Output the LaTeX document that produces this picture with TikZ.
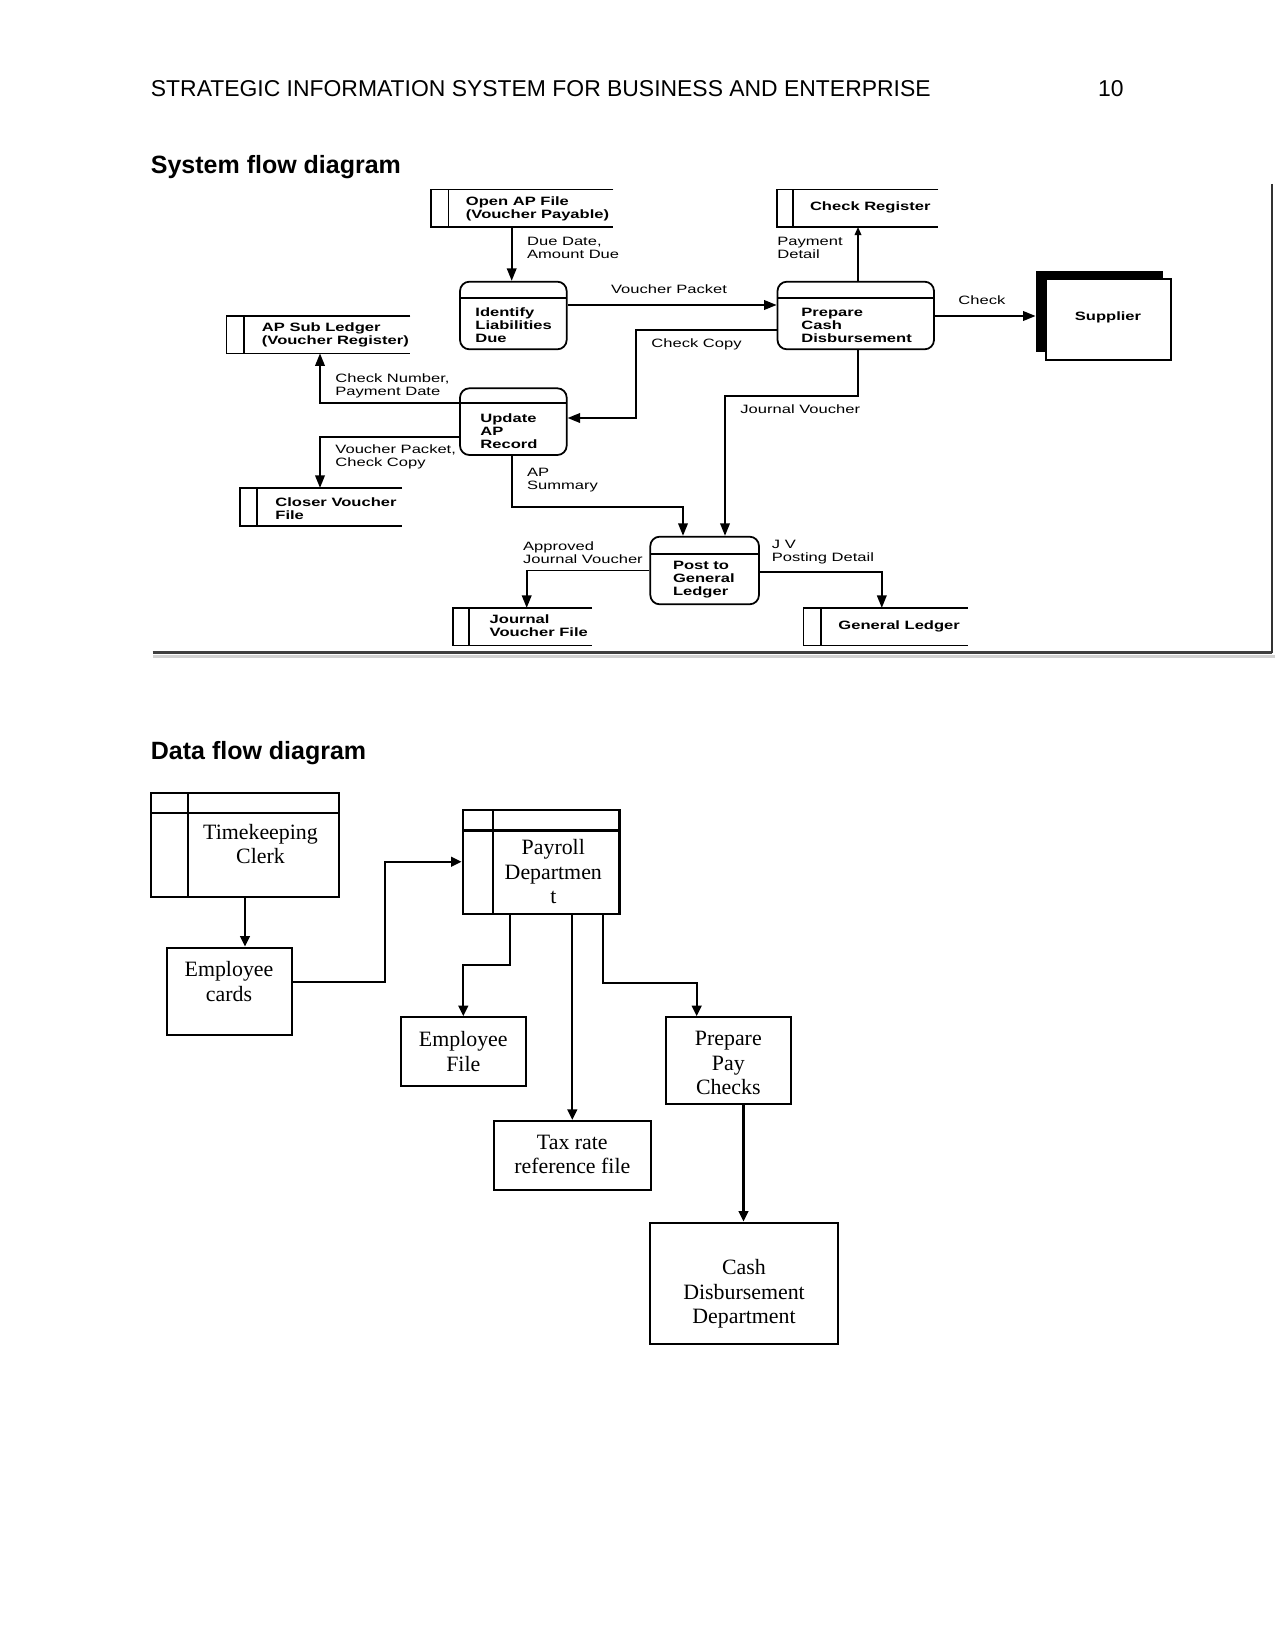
\documentclass[tikz,border=0pt]{standalone}
\usepackage{fontspec}
\setmainfont{Liberation Serif}
\setsansfont{Liberation Sans}
\newfontfamily\sfdfont[FakeStretch=1.37]{Liberation Sans}
\usetikzlibrary{arrows.meta,fit}

\tikzset{
 sfline/.style={line width=0.85pt, draw=black},
 sfarr/.style={sfline, -{Triangle[length=6pt,width=4.6pt]}},
 sfsmall/.style={sfline, -{Triangle[length=4pt,width=3.2pt]}},
 sftext/.style={inner sep=0pt, anchor=west, align=left, font={\sfdfont\bfseries\fontsize{5.8}{6.2}\selectfont}},
 sflabel/.style={inner sep=0pt, anchor=west, align=left, font={\sfdfont\fontsize{5.8}{6.2}\selectfont}},
 dfline/.style={line width=1.1pt, draw=black},
 dfarr/.style={line width=1pt, draw=black, -{Triangle[length=5pt,width=4.6pt]}},
 dftext/.style={inner sep=0pt, align=center, font={\rmfamily\fontsize{10.5}{11.8}\selectfont}},
 hdr/.style={inner sep=0pt, font={\sffamily\fontsize{11}{13}\selectfont}},
 ttl/.style={inner sep=0pt, font={\sffamily\bfseries\fontsize{12}{14}\selectfont}},
}

\newcommand{\sfstore}[6]{%
 \node[fit={(#2,#5) (#4,#6)}, inner sep=0pt] (#1) {};
 \draw[sfline] (#1.north east) -- (#1.north west) -- (#1.south west) -- (#1.south east);
 \draw[sfline] (#3,#5) -- (#3,#6);
}
\newcommand{\sfproc}[6]{%
 \node[fit={(#2,#4) (#3,#5)}, inner sep=0pt, draw, sfline, rounded corners=4.5pt] (#1) {};
 \draw[sfline] (#2,#6) -- (#3,#6);
}
\newcommand{\dfent}[7]{%
 \node[fit={(#2,#4) (#3,#5)}, inner sep=0pt, draw, dfline] (#1) {};
 \draw[dfline] (#2,#6) -- (#3,#6);
 \draw[dfline] (#7,#4) -- (#7,#5);
}
\newcommand{\dfbox}[5]{%
 \node[fit={(#2,#4) (#3,#5)}, inner sep=0pt, draw, dfline] (#1) {};
}

\begin{document}
\begin{tikzpicture}[x=0.48pt,y=-0.48pt]
\fill[white] (0,0) rectangle (1275,1651);
\useasboundingbox (0,0) rectangle (1275,1651);

% header and titles
\node[hdr, anchor=base west] (header) at (150.5,96.5) {STRATEGIC INFORMATION SYSTEM FOR BUSINESS AND ENTERPRISE};
\node[hdr, anchor=base east] (pagenum) at (1124,96.5) {10};
\node[ttl, anchor=base west] (sfdtitle) at (150.5,173.7) {System flow diagram};
\node[ttl, anchor=base west] (dfdtitle) at (150.5,759) {Data flow diagram};

% ---------------- system flow diagram ----------------
\sfstore{openap}{431.6}{448.5}{613}{190}{226.5}
\node[sftext] (openapT) at (465.5,208.5) {Open AP File\\(Voucher Payable)};
\sfstore{chkreg}{777.5}{793}{938}{190}{226.5}
\node[sftext] (chkregT) at (809.6,207.5) {Check Register};
\sfstore{apsub}{227}{243.8}{410}{316.5}{353}
\node[sftext] (apsubT) at (261.5,334.7) {AP Sub Ledger\\(Voucher Register)};
\sfstore{closer}{240.7}{257.3}{401.7}{488.3}{525.7}
\node[sftext] (closerT) at (275,508.3) {Closer Voucher\\File};
\sfstore{jvfile}{453.3}{469.3}{591.7}{608.3}{645}
\node[sftext] (jvfileT) at (489.3,626) {Journal\\Voucher File};
\sfstore{gl}{804}{820.8}{967.2}{608.3}{645}
\node[sftext] (glT) at (838,626) {General Ledger};

\sfproc{ident}{460}{566.7}{281.7}{349.3}{298.3}
\node[sftext] (identT) at (475,325.5) {Identify\\Liabilities\\Due};
\sfproc{prep}{777.5}{934}{281.7}{349.3}{298.3}
\node[sftext] (prepT) at (801,325.3) {Prepare\\Cash\\Disbursement};
\sfproc{update}{460}{566.7}{388.3}{455}{403.3}
\node[sftext] (updateT) at (480,431) {Update\\AP\\Record};
\sfproc{post}{650.3}{759}{536.7}{604.3}{554}
\node[sftext] (postT) at (672.6,579.7) {Post to\\General\\Ledger};

\node[fit={(1036,271) (1163,352)}, inner sep=0pt, fill=black] (suppsh) {};
\node[fit={(1046,279) (1171,360)}, inner sep=0pt, sfline, fill=white, draw] (supp) {};
\node[sftext, anchor=center] (suppT) at (1108,317) {Supplier};

% connectors
\coordinate (c1) at (511.7,0);
\draw[sfarr] (openap.south -| c1) -- (ident.north -| c1);
\coordinate (c2) at (0,305);
\draw[sfarr] (ident.east |- c2) -- (prep.west |- c2);
\coordinate (c3) at (858,0);
\draw[sfsmall] (prep.north -| c3) -- (chkreg.south -| c3);
\coordinate (c4) at (0,316);
\draw[sfarr] (prep.east |- c4) -- (suppsh.west |- c4);
\coordinate (ccA) at (636,330);
\coordinate (ccB) at (636,418);
\draw[sfarr] (prep.west |- ccA) -- (ccA) -- (ccB) -- (update.east |- ccB);
\coordinate (cnA) at (320,403.3);
\draw[sfarr] (update.west |- cnA) -- (cnA) -- (apsub.south -| cnA);
\coordinate (vpA) at (320,436.7);
\draw[sfarr] (update.west |- vpA) -- (vpA) -- (closer.north -| vpA);
\coordinate (asA) at (511.7,506.7);
\coordinate (asB) at (683,506.7);
\draw[sfarr] (update.south -| asA) -- (asA) -- (asB) -- (post.north -| asB);
\coordinate (jvA) at (858,396);
\coordinate (jvB) at (725,396);
\draw[sfarr] (prep.south -| jvA) -- (jvA) -- (jvB) -- (post.north -| jvB);
\coordinate (apA) at (526.7,570.5);
\draw[sfarr] (post.west |- apA) -- (apA) -- (jvfile.north -| apA);
\coordinate (pdA) at (881.8,571.7);
\draw[sfarr] (post.east |- pdA) -- (pdA) -- (gl.north -| pdA);

% connector labels
\node[sflabel] (lDue) at (526.7,247.5) {Due Date,\\Amount Due};
\node[sflabel] (lPay) at (777,247.5) {Payment\\Detail};
\node[sflabel] (lVP) at (610.6,289.5) {Voucher Packet};
\node[sflabel] (lChk) at (958,300) {Check};
\node[sflabel] (lCC) at (651,344) {Check Copy};
\node[sflabel] (lCN) at (335,386.3) {Check Number,\\Payment Date};
\node[sflabel] (lVPC) at (335,457) {Voucher Packet,\\Check Copy};
\node[sflabel] (lAP) at (526.7,480.3) {AP\\Summary};
\node[sflabel] (lJV) at (740,409) {Journal Voucher};
\node[sflabel] (lAJV) at (522.7,552.3) {Approved\\Journal Voucher};
\node[sflabel] (lJVP) at (771.5,552) {J V\\Posting Detail};

% image frame
\draw[line width=1.5pt, black!18] (153,656.5) -- (1275,656.5);
\draw[line width=1.6pt, black!75] (152.6,652.7) -- (1272,652.7);
\draw[line width=0.9pt, black!80] (1272,184) -- (1272,652.7);

% ---------------- data flow diagram ----------------
\dfent{tc}{151}{339}{792.7}{896.7}{812.7}{188.3}
\node[dftext] (tcT) at (260.5,843.8) {Timekeeping\\Clerk};
\dfbox{ec}{166.7}{291.7}{947.7}{1035}
\node[dftext] (ecT) at (229,981.7) {Employee\\cards};
\dfent{pay}{462.7}{619.5}{810}{913.7}{830.5}{493.3}
\node[dftext] (payT) at (553.3,871.7) {Payroll\\Departmen\\t};
\dfbox{ef}{400.7}{525.7}{1017.3}{1086}
\node[dftext] (efT) at (463.3,1051.6) {Employee\\File};
\dfbox{tax}{494}{650.7}{1121}{1190}
\node[dftext] (taxT) at (572.3,1154.5) {Tax rate\\reference file};
\dfbox{ppc}{665.7}{791}{1017.3}{1104}
\node[dftext] (ppcT) at (728.3,1063) {Prepare\\Pay\\Checks};
\dfbox{cash}{650}{837.7}{1222.7}{1344}
\node[dftext] (cashT) at (744,1294) {Cash\\Disbursement\\Department};

\coordinate (d1) at (245,0);
\draw[dfarr] (tc.south -| d1) -- (ec.north -| d1);
\coordinate (d2a) at (385,981.7);
\coordinate (d2b) at (385,861.7);
\draw[dfarr] (ec.east |- d2a) -- (d2a) -- (d2b) -- (pay.west |- d2b);
\coordinate (d3a) at (510,965);
\coordinate (d3b) at (463.3,965);
\draw[dfarr] (pay.south -| d3a) -- (d3a) -- (d3b) -- (ef.north -| d3b);
\coordinate (d4) at (572.3,0);
\draw[dfarr] (pay.south -| d4) -- (tax.north -| d4);
\coordinate (d5a) at (603.3,982.7);
\coordinate (d5b) at (696.7,982.7);
\draw[dfarr] (pay.south -| d5a) -- (d5a) -- (d5b) -- (ppc.north -| d5b);
\coordinate (d6) at (743.5,0);
\draw[dfarr] (ppc.south -| d6) -- (cash.north -| d6);
\end{tikzpicture}
\end{document}
